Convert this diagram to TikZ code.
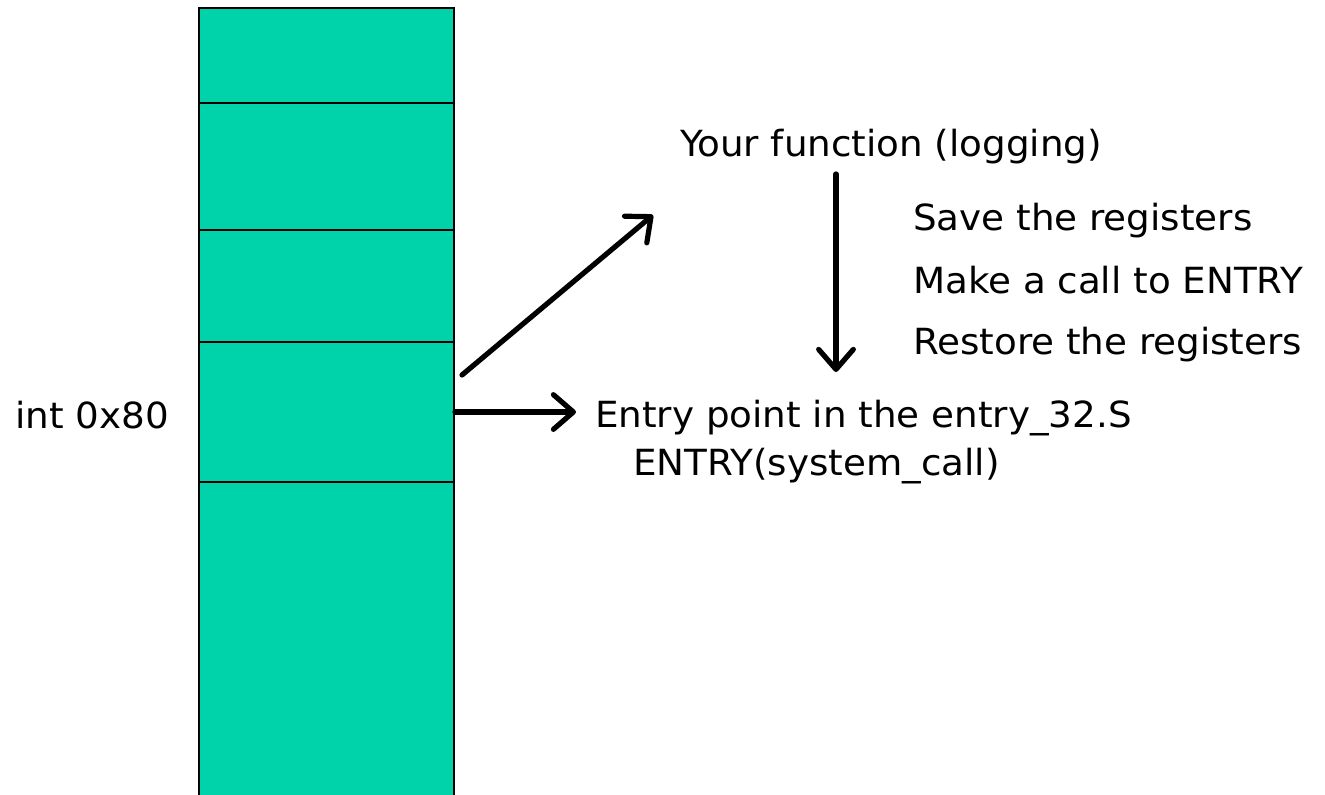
\documentclass[tikz,border=0pt]{standalone}
\usepackage{fontspec}
\setmainfont{DejaVu Sans Condensed}[FakeStretch=1.15]
\usetikzlibrary{arrows.meta}
\definecolor{cellgreen}{RGB}{0,210,170}
\tikzset{
  cell/.style={draw=black, line width=1.5pt, fill=cellgreen, minimum width=255*0.75pt, inner sep=0pt, anchor=north west},
  label/.style={anchor=base west, inner sep=0pt, font=\fontsize{27}{32}\selectfont},
  pointer/.style={line width=3.9pt, line cap=round, -{Straight Barb[length=15pt, width=26pt, line width=3.9pt, line cap=round, line join=round]}}
}
\begin{document}
\begin{tikzpicture}[x=0.75pt, y=-0.75pt]
  \useasboundingbox (0,0) rectangle (1325,795);
  \clip (0,0) rectangle (1325,795);
  % memory column
  \node[cell, minimum height=95*0.75pt]  (c1) at (198,7)   {};
  \node[cell, minimum height=127*0.75pt] (c2) at (198,102) {};
  \node[cell, minimum height=112*0.75pt] (c3) at (198,229) {};
  \node[cell, minimum height=140*0.75pt] (c4) at (198,341) {};
  \node[cell, minimum height=330*0.75pt] (c5) at (198,481) {};
  % texts
  \node[label] (int) at (15,428) {int 0x80};
  \node[label] (func) at (680,157) {Your function (logging)};
  \node[label] (save) at (913,230) {Save the registers};
  \node[label] (make) at (913,293) {Make a call to ENTRY};
  \node[label] (rest) at (913,354) {Restore the registers};
  \node[label] (entry) at (595,427) {Entry point in the entry\_32.S};
  \node[label] (sysc) at (633,475) {ENTRY(system\_call)};
  % connectors
  \coordinate (diagA) at (462,375);
  \coordinate (diagB) at (653,215);
  \coordinate (downA) at (836,174);
  \coordinate (downB) at (836,372);
  \coordinate (rightB) at (576,412);
  \draw[pointer] (diagA) -- (diagB);
  \draw[pointer] (c4.east |- rightB) -- (rightB);
  \draw[pointer] (downA) -- (downB);
\end{tikzpicture}
\end{document}
